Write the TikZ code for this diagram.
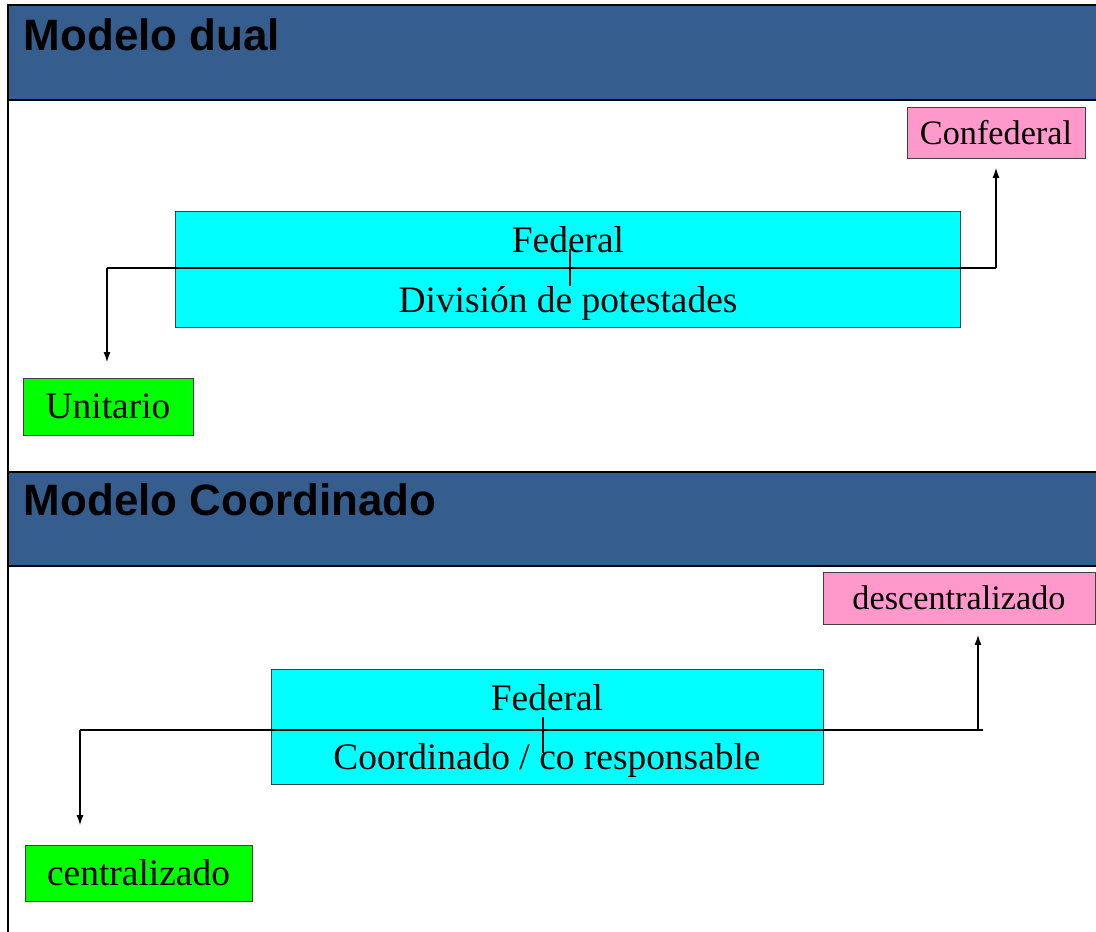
\documentclass[tikz,border=0pt]{standalone}
\usepackage{fontspec}
\setmainfont{Liberation Serif}
\setsansfont{Liberation Sans}
\usepackage{tikz}
\usetikzlibrary{arrows.meta}

\definecolor{hdrblue}{HTML}{355E8E}
\definecolor{rosa}{HTML}{FF99CC}
\definecolor{cian}{HTML}{00FFFF}
\definecolor{verde}{HTML}{00FF00}

\begin{document}
\begin{tikzpicture}[x=0.02cm, y=-0.02cm,
  every node/.style={outer sep=0pt, inner sep=0pt},
  caja/.style={draw=black!75, line width=0.5pt, font=\fontsize{21.3}{33.6}\selectfont, align=center},
  chica/.style={font=\fontsize{19.5}{24}\selectfont},
  texto/.style={font=\fontsize{21.3}{33.6}\selectfont, align=center},
  titulo/.style={anchor=base west, font=\sffamily\bfseries\fontsize{25}{30}\selectfont},
  marco/.style={line width=1.7pt},
  flecha/.style={-{Latex[length=0.2cm, width=0.14cm]}, line width=0.6pt},
  linea/.style={line width=0.6pt}]
\useasboundingbox (0,0) rectangle (1096,932);

% cabeceras
\fill[hdrblue] (8,5) rectangle (1096,100);
\fill[hdrblue] (8,472) rectangle (1096,566);
\draw[marco] (1096,5) -- (8,5) -- (8,932);
\draw[marco] (8,100) -- (1096,100);
\draw[marco] (8,472) -- (1096,472);
\draw[marco] (8,566) -- (1096,566);
\node[titulo] (t1) at (24,51) {Modelo dual};
\node[titulo] (t2) at (24,516) {Modelo Coordinado};

% modelo dual
\node[caja, chica, fill=rosa, minimum width=3.56cm, minimum height=1.02cm] (conf) at (996,132.5) {Confederal};
\node[caja, fill=cian, minimum width=15.72cm, minimum height=2.32cm] (fed1) at (568,269) {};
\node[texto] (fed1t) at ([yshift=-0.09cm]fed1.center) {Federal\\División de potestades};
\node[caja, fill=verde, minimum width=3.4cm, minimum height=1.14cm] (uni) at (108,406.5) {Unitario};

\coordinate (izq1) at (107,268);
\coordinate (der1) at (996,268);
\draw[linea] (izq1) -- (der1);
\draw[linea] (570,249) -- (570,286);
\draw[flecha, shorten >=0.32cm] (izq1) -- (izq1 |- uni.north);
\draw[flecha, shorten >=0.2cm] (der1) -- (der1 |- conf.south);

% modelo coordinado
\node[caja, chica, fill=rosa, minimum width=5.44cm, minimum height=1.04cm] (desc) at (959,598) {descentralizado};
\node[caja, fill=cian, minimum width=11.04cm, minimum height=2.3cm] (fed2) at (547,726.5) {};
\node[texto] (fed2t) at ([yshift=-0.09cm]fed2.center) {Federal\\Coordinado / co responsable};
\node[caja, fill=verde, minimum width=4.54cm, minimum height=1.12cm] (cen) at (138.5,873) {centralizado};

\coordinate (izq2) at (80,730);
\coordinate (der2) at (983,730);
\coordinate (sube2) at (978,730);
\draw[linea] (izq2) -- (der2);
\draw[linea] (543,717) -- (543,753);
\draw[flecha, shorten >=0.4cm] (izq2) -- (izq2 |- cen.north);
\draw[flecha, shorten >=0.22cm] (sube2) -- (sube2 |- desc.south);
\end{tikzpicture}
\end{document}
